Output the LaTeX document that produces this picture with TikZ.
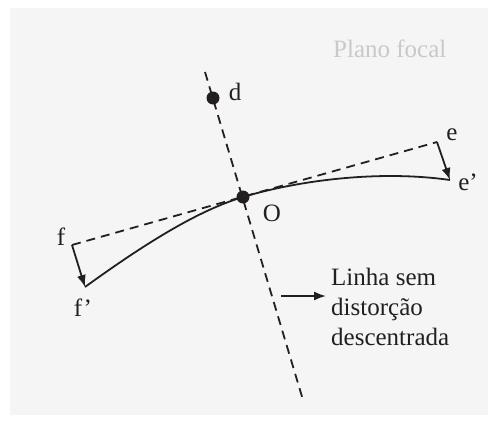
\documentclass[tikz,border=0pt]{standalone}
\usepackage{fontspec}
\setmainfont{Liberation Serif}
\usetikzlibrary{arrows.meta}
\definecolor{fundo}{RGB}{245,245,245}
\definecolor{tinta}{RGB}{35,31,32}
\definecolor{cinza}{RGB}{200,200,206}
\begin{document}
\begin{tikzpicture}[x=1pt,y=-1pt,>={Latex[length=12pt,width=9pt]},
    tracejado/.style={tinta,line width=1.8pt,dash pattern=on 9pt off 6pt},
    traco/.style={tinta,line width=1.8pt},
    rotulo/.style={tinta,inner sep=0pt,font=\fontsize{25}{30}\selectfont}]
    \useasboundingbox (0,0) rectangle (488,423);
    \fill[fundo] (10,8) rectangle (488,415);

    \coordinate (topo) at (205,72);
    \coordinate (base) at (303,400);
    \coordinate (f) at (72,245);
    \coordinate (e) at (437,142);
    \coordinate (fl) at (85,287);
    \coordinate (el) at (450,180);
    \coordinate (d) at (213,98);
    \coordinate (O) at (243,197);

    \draw[tracejado] (topo) -- (base);
    \draw[tracejado] (f) -- (e);

    \draw[traco] (fl) .. controls (150,240) and (200,210) .. (O)
        .. controls (300,180) and (380,170) .. (el);

    \draw[traco,->] (f) -- (fl);
    \draw[traco,->] (e) -- (el);

    \foreach \p in {d,O}
        \fill[tinta] (\p) circle (6.5pt);

    \node[rotulo] (ld) at (235,92) {d};
    \node[rotulo] (lO) at (272,213) {O};
    \node[rotulo] (le) at (452,135) {e};
    \node[rotulo] (lel) at (468,182) {e’};
    \node[rotulo] (lf) at (61,237) {f};
    \node[rotulo] (lfl) at (83,308) {f’};

    \node[rotulo,align=left,anchor=west] (txt) at (331,307) {Linha sem\\distorção\\descentrada};
    \coordinate (seta) at (281,296);
    \draw[traco,->,shorten >=5pt] (seta) -- (seta -| txt.west);

    \node[rotulo,cinza,anchor=base west] (plano) at (333,57) {Plano focal};
\end{tikzpicture}
\end{document}
